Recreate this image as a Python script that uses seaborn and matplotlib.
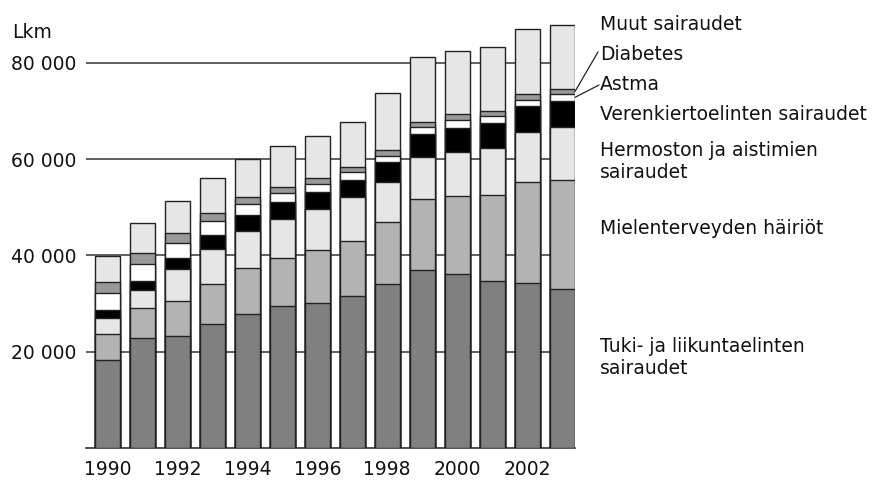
import matplotlib
matplotlib.use('AGG')
import matplotlib.pyplot as plt
import seaborn as sns
import pandas as pd
import numpy as np

years = list(range(1990, 2004))

# cases per cause (stacked bottom -> top)
tuki = [18230, 22870, 23220, 25650, 27860, 29460, 30150, 31600, 34100, 36940, 36050, 34720, 34300, 32930]
mieli = [5470, 6240, 7280, 8320, 9560, 10040, 10950, 11370, 12820, 14700, 16280, 17750, 20880, 22660]
hermo = [3330, 3680, 6650, 7400, 7700, 7950, 8530, 9090, 8380, 8730, 9210, 9770, 10520, 11020]
veren = [1600, 1870, 2350, 2910, 3260, 3590, 3530, 3590, 4040, 4850, 4990, 5200, 5280, 5530]
astma = [3600, 3530, 3120, 2790, 2220, 1960, 1730, 1730, 1370, 1450, 1600, 1520, 1310, 1400]
diabetes = [2225, 2350, 1950, 1660, 1460, 1160, 1110, 1040, 1180, 1110, 1250, 1100, 1250, 1030]
muut = [5405, 6240, 6780, 7400, 7960, 8530, 8865, 9290, 11850, 13510, 13090, 13340, 13510, 13240]

layers = ['tuki', 'mieli', 'hermo', 'veren', 'astma', 'diabetes', 'muut']
colors = ['#808080', '#b3b3b3', '#e6e6e6', '#000000', '#ffffff', '#999999', '#e6e6e6']
labels = [
    ('Tuki- ja liikuntaelinten\nsairaudet', 357),
    ('Mielenterveyden häiriöt', 228),
    ('Hermoston ja aistimien\nsairaudet', 162),
    ('Verenkiertoelinten sairaudet', 115),
    ('Astma', 84),
    ('Diabetes', 54),
    ('Muut sairaudet', 24),
]

df = pd.DataFrame({'year': [str(y) for y in years], 'tuki': tuki, 'mieli': mieli,
                   'hermo': hermo, 'veren': veren, 'astma': astma,
                   'diabetes': diabetes, 'muut': muut})
cum = df[layers].cumsum(axis=1)
for l in layers:
    df['cum_' + l] = cum[l]

sns.set_style('white')
plt.rcParams['font.family'] = ['DejaVu Sans']
fs = 13.5

fig = plt.figure(figsize=(8.76, 4.82), dpi=100)
ax = fig.add_axes([86 / 876, 1 - 447.7 / 482, (575 - 86) / 876, (447.7 - 14.8) / 482])

# draw from the top layer down so each overlays the previous
for l, c in reversed(list(zip(layers, colors))):
    sns.barplot(data=df, x='year', y='cum_' + l, color=c, saturation=1,
                width=0.714, edgecolor='#222222', linewidth=1.0,
                errorbar=None, ax=ax, zorder=3)

ax.set_xlim(-0.614, 13.37)
ax.set_ylim(0, 90000)
ax.set_yticks([20000, 40000, 60000, 80000])
ax.set_yticklabels(['20 000', '40 000', '60 000', '80 000'], fontsize=fs)
ax.set_xticks(range(len(years)))
ax.set_xticklabels([str(y) if y % 2 == 0 else '' for y in years], fontsize=fs)
ax.tick_params(axis='both', length=0, colors='#111111')
ax.tick_params(axis='y', pad=7)
ax.tick_params(axis='x', pad=9)
ax.set_xlabel('')
ax.set_ylabel('')
ax.yaxis.grid(True, color='#444444', linewidth=1.2)
ax.set_axisbelow(True)
for s in ['top', 'right', 'left']:
    ax.spines[s].set_visible(False)
ax.spines['bottom'].set_color('#333333')
ax.spines['bottom'].set_linewidth(1.2)

fig.text(12 / 876, 1 - 33 / 482, 'Lkm', fontsize=fs, va='center', ha='left', color='#111111')

for text, ypx in labels:
    fig.text(600 / 876, 1 - ypx / 482, text, fontsize=fs, va='center', ha='left',
             linespacing=1.2, color='#111111')

# leader lines for the thin segments
last = len(years) - 1
d_mid = df['cum_astma'][last] + diabetes[last] / 2
a_mid = df['cum_veren'][last] + astma[last] / 2
ax.annotate('', xy=(13.37, d_mid), xycoords='data',
            xytext=(598 / 876, 1 - 52 / 482), textcoords='figure fraction',
            arrowprops=dict(arrowstyle='-', color='#222222', lw=0.9,
                            shrinkA=0, shrinkB=0), annotation_clip=False)
ax.annotate('', xy=(13.37, a_mid), xycoords='data',
            xytext=(599 / 876, 1 - 85 / 482), textcoords='figure fraction',
            arrowprops=dict(arrowstyle='-', color='#222222', lw=0.9,
                            shrinkA=0, shrinkB=0), annotation_clip=False)

fig.savefig('out.png', dpi=100)
